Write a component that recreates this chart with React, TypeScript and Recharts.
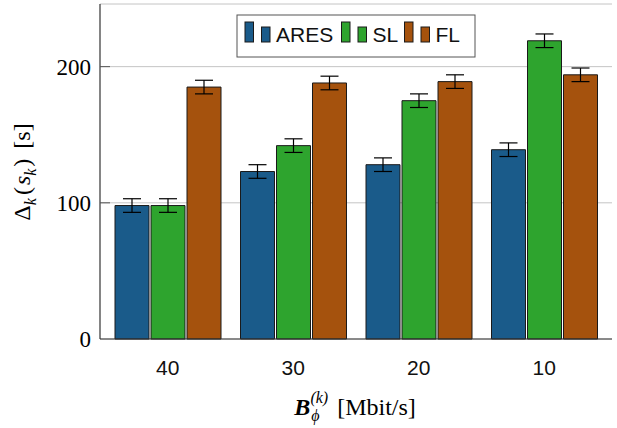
import React from "react";
import {
  BarChart,
  Bar,
  XAxis,
  YAxis,
  CartesianGrid,
  ErrorBar,
  Legend,
} from "recharts";

// bandwidth categories (Mbit/s)
const categories = ["40", "30", "20", "10"];

// mean delay per scheme [s]
const aresValues = [98, 123, 128, 139];
const slValues = [98, 142, 175, 219];
const flValues = [185, 188, 189, 194];

// error bar half-widths [s]
const aresErr = [5, 5, 5, 5];
const slErr = [5, 5, 5, 5];
const flErr = [5, 5, 5, 5];

const yTicks = [0, 100, 200];

const series = [
  { key: "ares", name: "ARES", color: "#1a5b8a" },
  { key: "sl", name: "SL", color: "#2ea42e" },
  { key: "fl", name: "FL", color: "#a5520d" },
];

const data = categories.map((c, i) => ({
  cat: c,
  ares: aresValues[i],
  aresErr: aresErr[i],
  sl: slValues[i],
  slErr: slErr[i],
  fl: flValues[i],
  flErr: flErr[i],
}));

const SANS = "'Liberation Sans', Arial, sans-serif";
const SERIF = "'Liberation Serif', 'Times New Roman', serif";

function YTick(props: any) {
  const { x, y, payload } = props;
  return (
    <g>
      {payload.value > 0 && (
        <line x1={x + 9} x2={x + 19} y1={y} y2={y} stroke="#555" strokeWidth={1} />
      )}
      <text x={x} y={y} dy="0.35em" textAnchor="end" fontFamily={SERIF} fontSize={23} fill="#000">
        {payload.value}
      </text>
    </g>
  );
}

// inward tick marks on the right frame
function RightTick(props: any) {
  const { x, y, payload } = props;
  if (payload.value === 0) return null;
  return <line x1={x - 10} x2={x} y1={y} y2={y} stroke="#555" strokeWidth={1} />;
}

function LegendBox() {
  let cx = 245;
  const items = series.map((s) => {
    const g = (
      <g key={s.key}>
        <rect x={cx} y={22} width={8.5} height={20} fill={s.color} stroke="#1a1a1a" strokeWidth={1} />
        <rect x={cx + 16.5} y={27} width={8.5} height={15} fill={s.color} stroke="#1a1a1a" strokeWidth={1} />
        <text x={cx + 31} y={42} fontFamily={SANS} fontSize={21} fill="#111">
          {s.name}
        </text>
      </g>
    );
    cx += s.name === "ARES" ? 96.5 : 63;
    return g;
  });
  return (
    <svg width={617} height={70} style={{ position: "absolute", left: 0, top: 0, pointerEvents: "none" }}>
      <rect x={237} y={15} width={238} height={42} fill="#fff" stroke="#555" strokeWidth={1} />
      {items}
    </svg>
  );
}

export default function App() {
  return (
    <div style={{ position: "absolute", left: 0, top: 0, width: 617, height: 428, background: "#fff" }}>
      <BarChart
        width={617}
        height={428}
        data={data}
        margin={{ top: 4, right: 5, left: 0, bottom: 0 }}
        barSize={34}
        barGap={2}
      >
        <CartesianGrid horizontal vertical={false} stroke="#c4c4c4" strokeWidth={1} />
        <XAxis
          dataKey="cat"
          height={89}
          padding={{ left: 5, right: 5 }}
          tickLine={false}
          tickSize={0}
          tickMargin={21}
          axisLine={{ stroke: "#333", strokeWidth: 1.2 }}
          tick={{ fontFamily: SANS, fontSize: 21, fill: "#111" }}
          label={{
            content: () => (
              <text x={355} y={415} textAnchor="middle" fontFamily={SERIF} fontSize={24} fill="#000">
                <tspan fontStyle="italic" fontWeight="bold">B</tspan>
                <tspan fontStyle="italic" fontSize={16} dx={1} dy={6}>ϕ</tspan>
                <tspan fontStyle="italic" fontSize={16} dx={-9} dy={-18}>(k)</tspan>
                <tspan dx={9} dy={12}>[Mbit/s]</tspan>
              </text>
            ),
          }}
        />
        <XAxis
          xAxisId="top"
          dataKey="cat"
          orientation="top"
          height={0}
          tick={false}
          tickLine={false}
          axisLine={{ stroke: "#555", strokeWidth: 1.2 }}
        />
        <YAxis
          width={100}
          domain={[0, 246]}
          ticks={yTicks}
          tickLine={false}
          tickSize={0}
          tickMargin={9}
          axisLine={{ stroke: "#333", strokeWidth: 1.2 }}
          tick={<YTick />}
          label={{
            content: () => (
              <text
                x={0}
                y={0}
                transform="translate(30,172) rotate(-90)"
                textAnchor="middle"
                fontFamily={SERIF}
                fontSize={24}
                fill="#000"
              >
                <tspan>Δ</tspan>
                <tspan fontStyle="italic" fontSize={16} dy={6}>k</tspan>
                <tspan dx={3} dy={-6}>(</tspan>
                <tspan fontStyle="italic" dx={2}>s</tspan>
                <tspan fontStyle="italic" fontSize={16} dy={6}>k</tspan>
                <tspan dx={2} dy={-6}>)</tspan>
                <tspan dx={10}>[s]</tspan>
              </text>
            ),
          }}
        />
        <YAxis
          yAxisId="right"
          orientation="right"
          width={0}
          domain={[0, 246]}
          ticks={yTicks}
          tickSize={0}
          tickMargin={0}
          tickLine={false}
          tick={<RightTick />}
          axisLine={{ stroke: "#555", strokeWidth: 1.2 }}
        />
        <Legend content={() => null} />
        {series.map((s) => (
          <Bar
            key={s.key}
            dataKey={s.key}
            name={s.name}
            fill={s.color}
            stroke="#1a1a1a"
            strokeWidth={1}
            isAnimationActive={false}
          >
            <ErrorBar dataKey={s.key + "Err"} width={9} stroke="#000" strokeWidth={1.2} direction="y" />
          </Bar>
        ))}
      </BarChart>
      <LegendBox />
    </div>
  );
}
